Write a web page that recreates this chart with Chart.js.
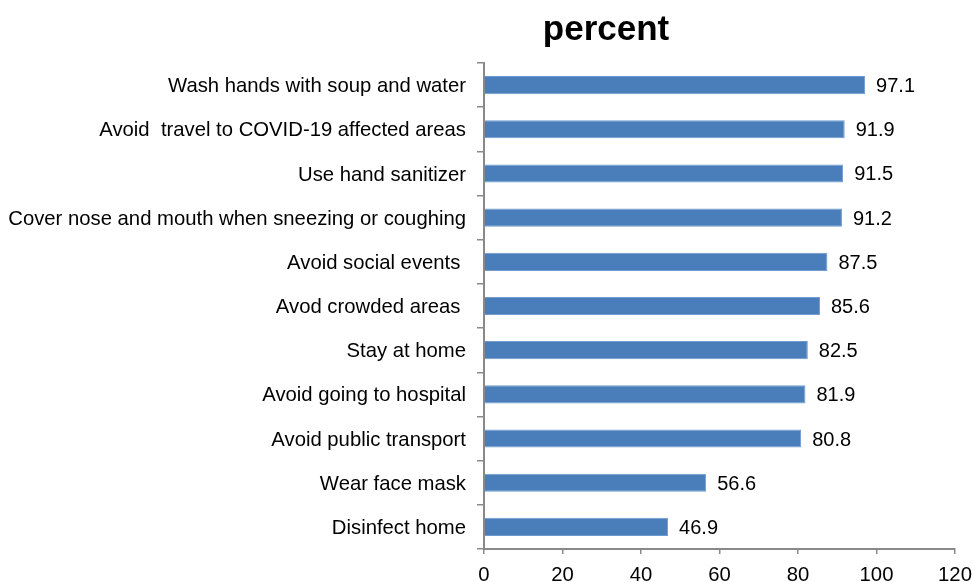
<!DOCTYPE html>
<html>
<head>
<meta charset="utf-8">
<script src="https://cdn.jsdelivr.net/npm/chart.js@4.4.1/dist/chart.umd.min.js"></script>
<style>
  html, body { margin: 0; padding: 0; background: #fff; }
  #wrap { width: 973px; height: 582px; position: relative; }
</style>
</head>
<body>
<div id="wrap"><canvas id="chart"></canvas></div>
<script>
const categories = [
  'Wash hands with soup and water',
  'Avoid  travel to COVID-19 affected areas',
  'Use hand sanitizer',
  'Cover nose and mouth when sneezing or coughing',
  'Avoid social events ',
  'Avod crowded areas ',
  'Stay at home',
  'Avoid going to hospital',
  'Avoid public transport',
  'Wear face mask',
  'Disinfect home'
];
const percent = [97.1, 91.9, 91.5, 91.2, 87.5, 85.6, 82.5, 81.9, 80.8, 56.6, 46.9];
const xTicks = [0, 20, 40, 60, 80, 100, 120];
const titleText = 'percent';

const axisGrey = '#898989';
const fontFamily = '"Liberation Sans", Arial, sans-serif';

// title sits over the middle of the figure, not the canvas
const titlePlugin = {
  id: 'offTitle',
  afterDraw(chart) {
    const ctx = chart.ctx;
    ctx.save();
    ctx.font = 'bold 35px ' + fontFamily;
    ctx.fillStyle = '#000';
    ctx.textAlign = 'center';
    ctx.textBaseline = 'alphabetic';
    ctx.fillText(titleText, 606, 40);
    ctx.restore();
  }
};

// value written just past the end of each bar
const valueLabels = {
  id: 'valueLabels',
  afterDatasetsDraw(chart) {
    const ctx = chart.ctx;
    const meta = chart.getDatasetMeta(0);
    ctx.save();
    ctx.font = '20px ' + fontFamily;
    ctx.fillStyle = '#000';
    ctx.textAlign = 'left';
    ctx.textBaseline = 'middle';
    meta.data.forEach((bar, i) => {
      ctx.fillText(percent[i].toFixed(1), bar.x + 11, bar.y + 1.5);
    });
    ctx.restore();
  }
};

new Chart(document.getElementById('chart'), {
  type: 'bar',
  data: {
    labels: categories,
    datasets: [{
      label: titleText,
      data: percent,
      backgroundColor: '#4a7ebb',
      borderColor: '#6f9bd0',
      borderWidth: 1,
      categoryPercentage: 1,
      barPercentage: 0.41
    }]
  },
  options: {
    indexAxis: 'y',
    responsive: true,
    maintainAspectRatio: false,
    animation: false,
    layout: { padding: { top: 63, right: 18, bottom: 0, left: 0 } },
    plugins: {
      legend: { display: false },
      title: { display: false },
      tooltip: { enabled: false }
    },
    scales: {
      x: {
        min: 0,
        max: 120,
        afterBuildTicks(scale) {
          scale.ticks = xTicks.map(v => ({ value: v }));
        },
        afterFit(scale) {
          scale.height = 33;
          scale.paddingLeft = 0;
          scale.paddingRight = 0;
        },
        grid: {
          drawOnChartArea: false,
          drawTicks: true,
          tickLength: 5,
          color: axisGrey,
          lineWidth: 1.5
        },
        border: { color: axisGrey, width: 2 },
        ticks: {
          color: '#000',
          padding: 9,
          font: { family: fontFamily, size: 20.3 }
        }
      },
      y: {
        afterFit(scale) { scale.width = 484; },
        grid: {
          drawOnChartArea: false,
          drawTicks: true,
          tickLength: 7,
          color: axisGrey,
          lineWidth: 1.5
        },
        border: { color: axisGrey, width: 2 },
        ticks: {
          color: '#000',
          padding: 11,
          labelOffset: 1.5,
          autoSkip: false,
          font: { family: fontFamily, size: 20.3 }
        }
      }
    }
  },
  plugins: [titlePlugin, valueLabels]
});
</script>
</body>
</html>
